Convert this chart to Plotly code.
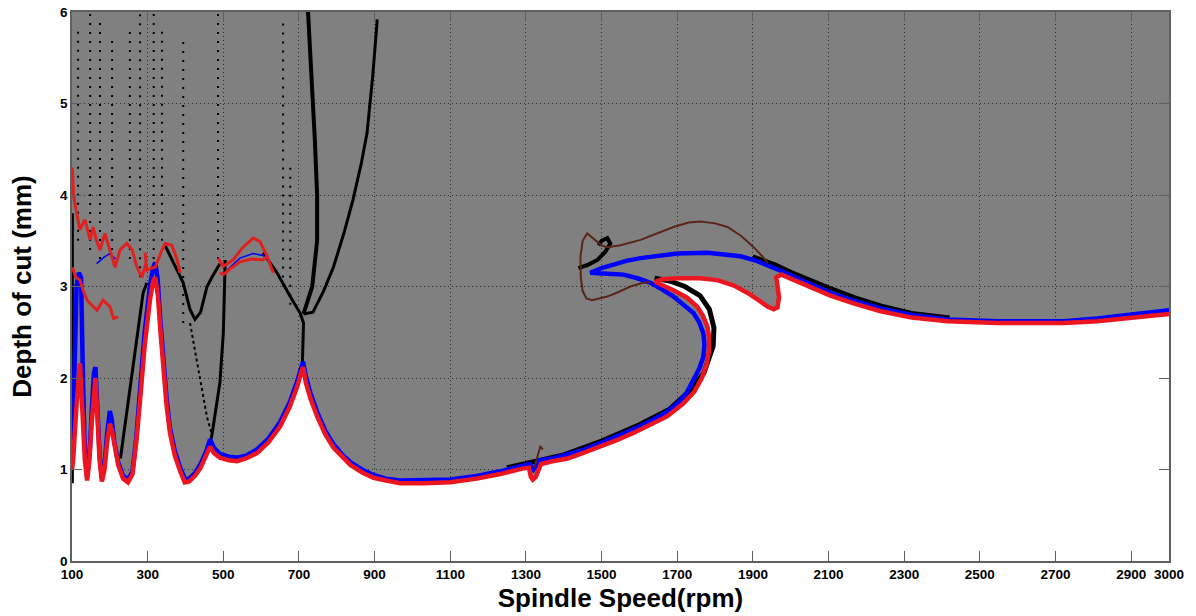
import plotly.graph_objects as go

# ---------------- data ----------------
x_ticks = [100, 300, 500, 700, 900, 1100, 1300, 1500, 1700, 1900, 2100, 2300, 2500, 2700, 2900, 3000]
y_ticks = [0, 1, 2, 3, 4, 5, 6]

# red stability boundary (lower envelope)
red_rpm = [100, 103, 112, 121, 128, 134, 140, 146, 152, 158, 162, 167, 173, 179, 186, 193, 200, 206, 212, 222,
           235, 248, 260, 270, 280, 292, 306, 314, 320, 327, 334, 341, 350, 359, 372, 386, 398, 410, 425, 440,
           455, 465, 475, 491, 515, 536, 560, 589, 620, 650, 675, 695, 705, 711, 718, 730, 748, 770, 791, 815,
           836, 866, 897, 930, 968, 1030, 1100, 1170, 1232, 1290, 1308, 1313, 1318, 1326, 1333, 1340, 1370,
           1410, 1450, 1497, 1540, 1584, 1630, 1673, 1716, 1745, 1765, 1778, 1784, 1784, 1780, 1768, 1753,
           1725, 1690, 1665, 1642, 1660, 1700, 1760, 1806, 1850, 1886, 1915, 1939, 1955, 1965, 1969, 1964,
           1962, 1975, 2040, 2105, 2170, 2238, 2320, 2415, 2547, 2640, 2722, 2810, 2899, 3000]
red_depth = [1.00, 1.10, 1.70, 2.16, 1.60, 1.10, 0.88, 1.10, 1.50, 1.90, 2.00, 1.60, 1.10, 0.87, 1.00, 1.30, 1.50, 1.42, 1.25, 1.05,
             0.90, 0.86, 0.95, 1.30, 1.76, 2.35, 2.85, 3.05, 3.10, 2.90, 2.50, 2.12, 1.70, 1.40, 1.15, 0.98, 0.86, 0.87, 0.93, 1.02,
             1.15, 1.25, 1.18, 1.13, 1.10, 1.09, 1.12, 1.18, 1.30, 1.47, 1.68, 1.90, 2.05, 2.12, 1.95, 1.78, 1.58, 1.38, 1.24, 1.13,
             1.05, 0.97, 0.91, 0.88, 0.85, 0.85, 0.86, 0.90, 0.95, 1.01, 1.02, 0.92, 0.89, 0.92, 0.98, 1.06, 1.09,
             1.12, 1.18, 1.25, 1.32, 1.40, 1.49, 1.58, 1.72, 1.85, 2.00, 2.15, 2.30, 2.45, 2.56, 2.68, 2.78,
             2.88, 2.96, 3.01, 3.05, 3.08, 3.09, 3.09, 3.07, 3.01, 2.93, 2.85, 2.78, 2.75, 2.77, 2.88, 3.00,
             3.10, 3.13, 3.02, 2.90, 2.81, 2.73, 2.66, 2.62, 2.60, 2.60, 2.60, 2.62, 2.66, 2.70]

# blue boundary
blue_rpm = [100, 103, 108, 112, 118, 124, 128, 133, 140, 147, 153, 158, 162, 167, 173, 179, 186, 193, 200, 205,
            212, 222, 235, 248, 260, 270, 280, 292, 306, 314, 320, 326, 334, 341, 350, 359, 372, 386, 398, 410,
            425, 440, 455, 465, 475, 491, 515, 536, 560, 589, 620, 650, 675, 695, 705, 711, 718, 730, 748, 770,
            791, 815, 836, 866, 897, 930, 968, 1030, 1100, 1170, 1232, 1290, 1310, 1320, 1328, 1335, 1370, 1410,
            1450, 1497, 1540, 1584, 1630, 1673, 1700, 1725, 1743, 1758, 1769, 1772, 1769, 1758, 1743, 1718,
            1690, 1660, 1629, 1595, 1558, 1515, 1470, 1500, 1530, 1565, 1603, 1650, 1700, 1780, 1830, 1867,
            1910, 1947, 1975, 2040, 2105, 2170, 2238, 2320, 2415, 2547, 2640, 2722, 2810, 2899, 3000]
blue_depth = [1.30, 1.50, 2.30, 3.00, 3.15, 3.10, 2.20, 1.30, 0.92, 1.20, 1.70, 2.05, 2.12, 1.70, 1.15, 0.90, 1.05, 1.40, 1.64, 1.55,
              1.30, 1.08, 0.93, 0.89, 0.98, 1.35, 1.85, 2.50, 3.00, 3.20, 3.26, 3.10, 2.60, 2.20, 1.78, 1.45, 1.20, 1.02, 0.90, 0.90,
              0.96, 1.06, 1.20, 1.33, 1.24, 1.17, 1.14, 1.13, 1.15, 1.22, 1.34, 1.52, 1.73, 1.96, 2.12, 2.18, 2.02, 1.84, 1.63, 1.42,
              1.28, 1.16, 1.08, 1.00, 0.94, 0.90, 0.88, 0.88, 0.89, 0.93, 0.98, 1.04, 1.06, 1.00, 1.05, 1.10, 1.12, 1.16,
              1.21, 1.29, 1.36, 1.44, 1.53, 1.63, 1.72, 1.84, 1.98, 2.10, 2.23, 2.37, 2.49, 2.61, 2.71, 2.80,
              2.89, 2.97, 3.04, 3.09, 3.13, 3.14, 3.15, 3.20, 3.24, 3.28, 3.31, 3.34, 3.36, 3.37, 3.35, 3.33,
              3.28, 3.22, 3.17, 3.05, 2.93, 2.84, 2.76, 2.69, 2.64, 2.62, 2.62, 2.62, 2.65, 2.69, 2.74]

# upper red (noisy) branches on the left
redA_rpm = [101, 104, 110, 121, 134, 148, 156, 165, 174, 187, 200, 214, 227, 245, 259, 272, 285, 295]
redA_depth = [4.30, 4.00, 3.85, 3.62, 3.73, 3.51, 3.65, 3.50, 3.40, 3.58, 3.40, 3.21, 3.40, 3.47, 3.40, 3.21, 3.10, 3.25]
redB_rpm = [101, 110, 121, 130, 140, 152, 166, 182, 200, 210, 222]
redB_depth = [3.21, 3.10, 3.07, 2.95, 2.85, 2.80, 2.74, 2.85, 2.78, 2.65, 2.67]
redC_rpm = [293, 298, 310, 320, 338, 346, 364, 378, 386]
redC_depth = [3.37, 3.18, 3.20, 3.21, 3.40, 3.47, 3.45, 3.29, 3.15]
redD_rpm = [486, 500, 526, 552, 579, 597, 616, 632]
redD_depth = [3.31, 3.22, 3.29, 3.43, 3.53, 3.49, 3.33, 3.15]
redE_rpm = [491, 500, 520, 544, 575, 605, 616]
redE_depth = [3.15, 3.13, 3.20, 3.27, 3.30, 3.29, 3.33]
blueF_rpm = [165, 185, 200, 215, 510, 544, 579, 605, 616]
blueF_depth = [3.25, 3.32, 3.36, 3.30, 3.18, 3.31, 3.36, 3.34, 3.30]

# brown loop around the hook
brownU_rpm = [1444, 1450, 1462, 1480, 1500, 1515, 1550, 1603, 1650, 1690, 1730, 1761, 1800, 1833, 1870, 1902, 1925, 1939]
brownU_depth = [3.32, 3.50, 3.58, 3.52, 3.45, 3.43, 3.45, 3.51, 3.59, 3.65, 3.70, 3.71, 3.69, 3.65, 3.55, 3.43, 3.33, 3.26]
brownL_rpm = [1444, 1445, 1450, 1460, 1475, 1500, 1515, 1545, 1576, 1610, 1629]
brownL_depth = [3.32, 3.10, 2.95, 2.87, 2.85, 2.87, 2.89, 2.94, 3.00, 3.04, 3.05]
brownN_rpm = [1322, 1330, 1338, 1345]
brownN_depth = [1.02, 1.15, 1.25, 1.22]

# black point families
blk1_rpm = [101, 101]
blk1_depth = [0.85, 3.80]
blk2_rpm = [228, 245, 259, 275, 288, 298]
blk2_depth = [1.12, 1.62, 2.05, 2.56, 2.93, 3.04]
blk3_rpm = [346, 370, 394, 412, 425, 440, 457, 470, 491]
blk3_depth = [3.45, 3.25, 3.04, 2.75, 2.64, 2.72, 3.00, 3.10, 3.25]
blk4_rpm = [505, 503, 500, 491, 478, 470, 467]
blk4_depth = [3.29, 2.90, 2.49, 1.95, 1.57, 1.38, 1.32]
blk5_rpm = [412, 430, 444, 457, 470]
blk5_depth = [2.60, 2.20, 1.90, 1.57, 1.38]
blk6_rpm = [605, 642, 677, 703, 712, 711, 709]
blk6_depth = [3.37, 3.15, 2.89, 2.71, 2.60, 2.35, 2.15]
blk7_rpm = [712, 735, 748, 748, 742, 733, 724]
blk7_depth = [2.70, 3.00, 3.50, 4.00, 4.60, 5.30, 6.00]
blk8_rpm = [712, 737, 765, 791, 820, 843, 865, 880, 895, 907]
blk8_depth = [2.70, 2.72, 2.95, 3.21, 3.60, 3.95, 4.35, 4.68, 5.30, 5.92]
blk9_rpm = [1250, 1400, 1500, 1600, 1680, 1730, 1770, 1795, 1797, 1785, 1760, 1720, 1680, 1640]
blk9_depth = [1.02, 1.16, 1.31, 1.49, 1.66, 1.85, 2.05, 2.35, 2.55, 2.75, 2.90, 3.00, 3.06, 3.09]
blk10_rpm = [1900, 1935, 1960, 2000, 2050, 2100, 2170, 2240, 2320, 2420]
blk10_depth = [3.33, 3.28, 3.24, 3.16, 3.07, 2.99, 2.88, 2.79, 2.71, 2.66]
blk11_rpm = [1492, 1500, 1515, 1523, 1510, 1489, 1465, 1439]
blk11_depth = [3.45, 3.50, 3.53, 3.47, 3.38, 3.29, 3.24, 3.20]

# sparse columns of "x" marks (rpm, lowest depth, highest depth)
col_rpm = [116, 148, 174, 206, 253, 280, 316, 338, 394, 486, 658, 677]
col_low = [3.5, 3.4, 3.3, 3.3, 3.3, 3.1, 3.3, 3.5, 2.6, 3.3, 3.0, 2.8]
col_high = [5.8, 6.0, 5.9, 5.7, 5.8, 6.0, 6.0, 5.8, 5.7, 6.0, 5.9, 4.3]

# ---------------- figure ----------------
fig = go.Figure()

# stable (white) region below the red boundary
fig.add_trace(go.Scatter(x=red_rpm + [3000, 100], y=red_depth + [0, 0], fill="toself",
                         fillcolor="white", mode="lines", line=dict(width=0), hoverinfo="skip"))

# sparse dotted columns
for r, lo, hi in zip(col_rpm, col_low, col_high):
    fig.add_trace(go.Scatter(x=[r, r], y=[lo, hi], mode="lines",
                             line=dict(color="black", width=2, dash="2px,7px")))

dense = [(blk1_rpm, blk1_depth, 3, "solid"), (blk2_rpm, blk2_depth, 3, "solid"),
         (blk3_rpm, blk3_depth, 3, "solid"), (blk4_rpm, blk4_depth, 3, "solid"),
         (blk5_rpm, blk5_depth, 2, "3px,3px"), (blk6_rpm, blk6_depth, 3, "solid"),
         (blk7_rpm, blk7_depth, 4, "solid"), (blk8_rpm, blk8_depth, 3, "solid"),
         (blk9_rpm, blk9_depth, 5, "solid"), (blk10_rpm, blk10_depth, 4, "solid"),
         (blk11_rpm, blk11_depth, 4, "solid")]
for xs, ys, w, d in dense:
    fig.add_trace(go.Scatter(x=xs, y=ys, mode="lines", line=dict(color="black", width=w, dash=d)))

# blue and red boundaries
fig.add_trace(go.Scatter(x=blue_rpm, y=blue_depth, mode="lines", line=dict(color="#0000ff", width=4.5)))
fig.add_trace(go.Scatter(x=red_rpm, y=red_depth, mode="lines", line=dict(color="#ec1620", width=4.5)))

for xs, ys in [(blueF_rpm[:4], blueF_depth[:4]), (blueF_rpm[4:], blueF_depth[4:])]:
    fig.add_trace(go.Scatter(x=xs, y=ys, mode="lines", line=dict(color="#0000ff", width=1.5)))
for xs, ys in [(redA_rpm, redA_depth), (redB_rpm, redB_depth), (redC_rpm, redC_depth),
               (redD_rpm, redD_depth), (redE_rpm, redE_depth)]:
    fig.add_trace(go.Scatter(x=xs, y=ys, mode="lines", line=dict(color="#e02020", width=3)))
for xs, ys in [(brownU_rpm, brownU_depth), (brownL_rpm, brownL_depth), (brownN_rpm, brownN_depth)]:
    fig.add_trace(go.Scatter(x=xs, y=ys, mode="lines", line=dict(color="#5a2418", width=2)))

tick_font = dict(family="Liberation Sans, Arial, sans-serif", size=13.5, color="black", weight="bold")
title_font = dict(family="Liberation Sans, Arial, sans-serif", size=26, color="black", weight="bold")

fig.update_layout(
    width=1196, height=616,
    margin=dict(l=72, r=27, t=12, b=55),
    plot_bgcolor="#808080", paper_bgcolor="white",
    showlegend=False,
    xaxis=dict(range=[100, 3000], tickvals=x_ticks, ticktext=[str(v) for v in x_ticks],
               showgrid=True, gridcolor="#2e2e2e", griddash="1px,3px", gridwidth=1,
               zeroline=False, showline=True, linecolor="#606060", linewidth=1.5, mirror="ticks",
               ticks="inside", ticklen=10, tickcolor="#606060", tickfont=tick_font,
               layer="above traces", automargin=False, ticklabeloverflow="allow",
               title=dict(text="Spindle Speed(rpm)", font=title_font, standoff=8)),
    yaxis=dict(range=[0, 6], tickvals=y_ticks, ticktext=[str(v) for v in y_ticks],
               showgrid=True, gridcolor="#2e2e2e", griddash="1px,3px", gridwidth=1,
               zeroline=False, showline=True, linecolor="#606060", linewidth=1.5, mirror="ticks",
               ticks="inside", ticklen=10, tickcolor="#606060", tickfont=tick_font,
               layer="above traces", automargin=False, ticklabeloverflow="allow",
               title=dict(text="Depth of cut (mm)", font=title_font, standoff=21)),
)

# remove the browser's default 8 px page margin so the figure sits at the window origin
fig.write_html("out.html", config={"displayModeBar": False},
               post_script="document.body.style.margin='0';")
